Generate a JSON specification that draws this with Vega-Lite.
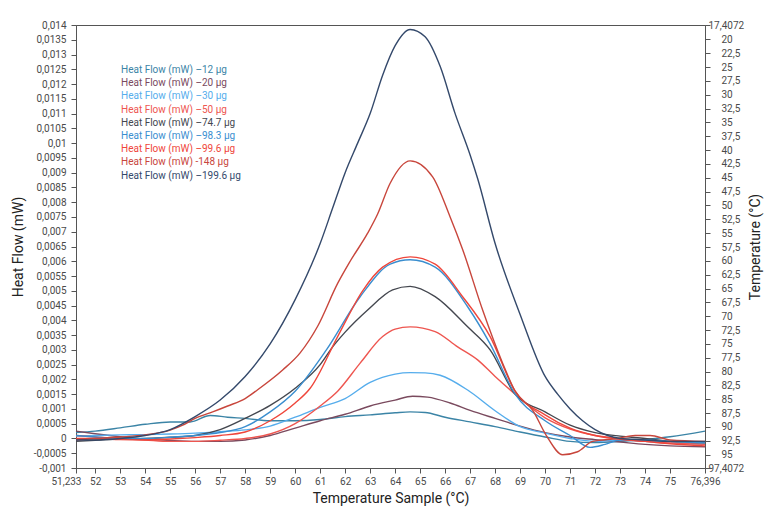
{
  "$schema": "https://vega.github.io/schema/vega-lite/v6.json",
  "width": 629,
  "height": 443,
  "autosize": "none",
  "padding": {"left": 76, "top": 25, "right": 63, "bottom": 46},
  "config": {
    "locale": {"number": {"decimal": ",", "thousands": ".", "grouping": [3], "currency": ["", " €"], "minus": "-"}},
    "font": "Roboto",
    "view": {"stroke": "#555"},
    "axis": {
      "domainColor": "#555",
      "tickColor": "#555",
      "labelColor": "#4a4a4a",
      "labelFontSize": 10,
      "titleFontSize": 14,
      "titleFontWeight": "normal",
      "titleColor": "#222",
      "titleBaseline": "middle",
      "titleAlign": "center",
      "grid": false,
      "tickSize": 5
    }
  },
  "layer": [
    {
      "data": {
        "values": [
          {"s": "12", "t": 51.233, "v": 0.0002}, {"s": "12", "t": 52, "v": 0.00025}, {"s": "12", "t": 53, "v": 0.00036},
          {"s": "12", "t": 54, "v": 0.00048}, {"s": "12", "t": 55, "v": 0.00056}, {"s": "12", "t": 55.8, "v": 0.00056},
          {"s": "12", "t": 56.6, "v": 0.00078}, {"s": "12", "t": 57.3, "v": 0.00072}, {"s": "12", "t": 58, "v": 0.00068},
          {"s": "12", "t": 59, "v": 0.0006}, {"s": "12", "t": 60, "v": 0.0006}, {"s": "12", "t": 61, "v": 0.00064},
          {"s": "12", "t": 62, "v": 0.00074}, {"s": "12", "t": 63, "v": 0.0008}, {"s": "12", "t": 64, "v": 0.00087},
          {"s": "12", "t": 64.6, "v": 0.0009}, {"s": "12", "t": 65.2, "v": 0.00088}, {"s": "12", "t": 66, "v": 0.00072},
          {"s": "12", "t": 67, "v": 0.00056}, {"s": "12", "t": 68, "v": 0.0004}, {"s": "12", "t": 69, "v": 0.00022},
          {"s": "12", "t": 70, "v": 0.00005}, {"s": "12", "t": 71, "v": -0.0001}, {"s": "12", "t": 72, "v": -0.00014},
          {"s": "12", "t": 73, "v": -0.0001}, {"s": "12", "t": 74, "v": -0.00003}, {"s": "12", "t": 75, "v": 0.00006},
          {"s": "12", "t": 76.396, "v": 0.00025},

          {"s": "20", "t": 51.233, "v": 0.00025}, {"s": "20", "t": 52, "v": 0.00016}, {"s": "20", "t": 53, "v": 0.00006},
          {"s": "20", "t": 54, "v": -0.00002}, {"s": "20", "t": 55, "v": -0.00007}, {"s": "20", "t": 56, "v": -0.0001},
          {"s": "20", "t": 57, "v": -0.0001}, {"s": "20", "t": 58, "v": -0.00005}, {"s": "20", "t": 59, "v": 0.0001},
          {"s": "20", "t": 60, "v": 0.00035}, {"s": "20", "t": 61, "v": 0.0006}, {"s": "20", "t": 62, "v": 0.00082},
          {"s": "20", "t": 63, "v": 0.0011}, {"s": "20", "t": 64, "v": 0.0013}, {"s": "20", "t": 64.7, "v": 0.00143},
          {"s": "20", "t": 65.3, "v": 0.0014}, {"s": "20", "t": 66.2, "v": 0.0012}, {"s": "20", "t": 67, "v": 0.00095},
          {"s": "20", "t": 68, "v": 0.00068}, {"s": "20", "t": 69, "v": 0.00042}, {"s": "20", "t": 70, "v": 0.0002},
          {"s": "20", "t": 71, "v": 0.00005}, {"s": "20", "t": 72, "v": -0.00004}, {"s": "20", "t": 73, "v": -0.00012},
          {"s": "20", "t": 74, "v": -0.0002}, {"s": "20", "t": 75, "v": -0.00025}, {"s": "20", "t": 76.396, "v": -0.00028},

          {"s": "30", "t": 51.233, "v": 0.00008}, {"s": "30", "t": 52, "v": 0.0001}, {"s": "30", "t": 53, "v": 0.00012},
          {"s": "30", "t": 54, "v": 0.00013}, {"s": "30", "t": 55, "v": 0.00015}, {"s": "30", "t": 56, "v": 0.00018},
          {"s": "30", "t": 57, "v": 0.00023}, {"s": "30", "t": 58, "v": 0.00029}, {"s": "30", "t": 59, "v": 0.00042},
          {"s": "30", "t": 60, "v": 0.00072}, {"s": "30", "t": 61, "v": 0.00105}, {"s": "30", "t": 62, "v": 0.00135},
          {"s": "30", "t": 63, "v": 0.0019}, {"s": "30", "t": 64, "v": 0.00218}, {"s": "30", "t": 64.6, "v": 0.00223},
          {"s": "30", "t": 65.2, "v": 0.00222}, {"s": "30", "t": 65.8, "v": 0.00214}, {"s": "30", "t": 66.9, "v": 0.00164},
          {"s": "30", "t": 68, "v": 0.00094}, {"s": "30", "t": 69, "v": 0.0004}, {"s": "30", "t": 70, "v": 0.00018},
          {"s": "30", "t": 71, "v": 0.0}, {"s": "30", "t": 72, "v": -0.0001}, {"s": "30", "t": 73, "v": -0.00005},
          {"s": "30", "t": 74, "v": -0.0001}, {"s": "30", "t": 75, "v": -0.00015}, {"s": "30", "t": 76.396, "v": -0.0002},

          {"s": "50", "t": 51.233, "v": 0.0001}, {"s": "50", "t": 52, "v": 0.00005}, {"s": "50", "t": 53, "v": 0.0},
          {"s": "50", "t": 54, "v": -0.00005}, {"s": "50", "t": 55, "v": -0.0001}, {"s": "50", "t": 56, "v": -0.0001},
          {"s": "50", "t": 57, "v": -0.00006}, {"s": "50", "t": 58, "v": 0.0}, {"s": "50", "t": 59, "v": 0.00015},
          {"s": "50", "t": 60, "v": 0.0005}, {"s": "50", "t": 61, "v": 0.0011}, {"s": "50", "t": 61.7, "v": 0.0016},
          {"s": "50", "t": 62.6, "v": 0.00255}, {"s": "50", "t": 63.5, "v": 0.00345}, {"s": "50", "t": 64, "v": 0.0037},
          {"s": "50", "t": 64.6, "v": 0.00378}, {"s": "50", "t": 65.6, "v": 0.00362}, {"s": "50", "t": 66.5, "v": 0.0031},
          {"s": "50", "t": 67.3, "v": 0.00266}, {"s": "50", "t": 68, "v": 0.0021}, {"s": "50", "t": 68.8, "v": 0.0015},
          {"s": "50", "t": 70, "v": 0.0007}, {"s": "50", "t": 71, "v": 0.00032}, {"s": "50", "t": 72, "v": 0.0001},
          {"s": "50", "t": 73, "v": 0.0}, {"s": "50", "t": 74, "v": -0.0001}, {"s": "50", "t": 75, "v": -0.00015},
          {"s": "50", "t": 76.396, "v": -0.0002},

          {"s": "74.7", "t": 51.233, "v": -0.0001}, {"s": "74.7", "t": 52, "v": -0.00006}, {"s": "74.7", "t": 53, "v": -0.00002},
          {"s": "74.7", "t": 54, "v": 0.0}, {"s": "74.7", "t": 55, "v": 0.00004}, {"s": "74.7", "t": 56, "v": 0.0001},
          {"s": "74.7", "t": 57, "v": 0.0003}, {"s": "74.7", "t": 58, "v": 0.00068}, {"s": "74.7", "t": 59, "v": 0.00112},
          {"s": "74.7", "t": 60, "v": 0.0017}, {"s": "74.7", "t": 61, "v": 0.0025}, {"s": "74.7", "t": 61.5, "v": 0.0031},
          {"s": "74.7", "t": 62, "v": 0.0036}, {"s": "74.7", "t": 62.9, "v": 0.00435}, {"s": "74.7", "t": 63.9, "v": 0.00503},
          {"s": "74.7", "t": 64.6, "v": 0.00515}, {"s": "74.7", "t": 65.6, "v": 0.0048}, {"s": "74.7", "t": 66.9, "v": 0.00378},
          {"s": "74.7", "t": 67.8, "v": 0.003}, {"s": "74.7", "t": 68.8, "v": 0.0015}, {"s": "74.7", "t": 70, "v": 0.0009},
          {"s": "74.7", "t": 71, "v": 0.00045}, {"s": "74.7", "t": 72, "v": 0.0002}, {"s": "74.7", "t": 73, "v": 0.00008},
          {"s": "74.7", "t": 74, "v": 0.0}, {"s": "74.7", "t": 75, "v": -0.0001}, {"s": "74.7", "t": 76.396, "v": -0.00015},

          {"s": "98.3", "t": 51.233, "v": 0.0001}, {"s": "98.3", "t": 52, "v": 0.00005}, {"s": "98.3", "t": 53, "v": 0.0},
          {"s": "98.3", "t": 54, "v": 0.0}, {"s": "98.3", "t": 55, "v": 0.00004}, {"s": "98.3", "t": 56, "v": 0.0001},
          {"s": "98.3", "t": 57, "v": 0.0002}, {"s": "98.3", "t": 58, "v": 0.0004}, {"s": "98.3", "t": 59, "v": 0.0009},
          {"s": "98.3", "t": 60, "v": 0.0016}, {"s": "98.3", "t": 61.25, "v": 0.003}, {"s": "98.3", "t": 62.6, "v": 0.0048},
          {"s": "98.3", "t": 63.8, "v": 0.0059}, {"s": "98.3", "t": 64.6, "v": 0.00605}, {"s": "98.3", "t": 65.6, "v": 0.0058},
          {"s": "98.3", "t": 66.9, "v": 0.00446}, {"s": "98.3", "t": 67.8, "v": 0.0032}, {"s": "98.3", "t": 68.8, "v": 0.0015},
          {"s": "98.3", "t": 70, "v": 0.0006}, {"s": "98.3", "t": 71, "v": 0.0001}, {"s": "98.3", "t": 71.8, "v": -0.0003},
          {"s": "98.3", "t": 72.4, "v": -0.0002}, {"s": "98.3", "t": 73, "v": -0.00005}, {"s": "98.3", "t": 74, "v": -0.00005},
          {"s": "98.3", "t": 75, "v": -0.0001}, {"s": "98.3", "t": 76.396, "v": -0.00015},

          {"s": "99.6", "t": 51.233, "v": 0.0}, {"s": "99.6", "t": 52, "v": 0.0}, {"s": "99.6", "t": 53, "v": -0.00004},
          {"s": "99.6", "t": 54, "v": -0.00005}, {"s": "99.6", "t": 55, "v": -0.00002}, {"s": "99.6", "t": 56, "v": 0.00003},
          {"s": "99.6", "t": 57, "v": 0.0001}, {"s": "99.6", "t": 58, "v": 0.00022}, {"s": "99.6", "t": 59, "v": 0.0006},
          {"s": "99.6", "t": 60, "v": 0.0012}, {"s": "99.6", "t": 60.6, "v": 0.0017}, {"s": "99.6", "t": 61.7, "v": 0.00345},
          {"s": "99.6", "t": 62.7, "v": 0.005}, {"s": "99.6", "t": 63.5, "v": 0.0058}, {"s": "99.6", "t": 64.6, "v": 0.00615},
          {"s": "99.6", "t": 65.6, "v": 0.0059}, {"s": "99.6", "t": 66.7, "v": 0.0048}, {"s": "99.6", "t": 67.8, "v": 0.00345},
          {"s": "99.6", "t": 68.8, "v": 0.0016}, {"s": "99.6", "t": 70, "v": 0.0008}, {"s": "99.6", "t": 71, "v": 0.00035},
          {"s": "99.6", "t": 72, "v": 0.0001}, {"s": "99.6", "t": 73, "v": -0.00003}, {"s": "99.6", "t": 74, "v": -0.0001},
          {"s": "99.6", "t": 75, "v": -0.00018}, {"s": "99.6", "t": 76.396, "v": -0.00025},

          {"s": "148", "t": 51.233, "v": -0.00005}, {"s": "148", "t": 52, "v": 0.0}, {"s": "148", "t": 53, "v": 0.00005},
          {"s": "148", "t": 54, "v": 0.00012}, {"s": "148", "t": 55, "v": 0.00028}, {"s": "148", "t": 55.5, "v": 0.00045},
          {"s": "148", "t": 56, "v": 0.00068}, {"s": "148", "t": 56.7, "v": 0.0009}, {"s": "148", "t": 57.3, "v": 0.0011},
          {"s": "148", "t": 58, "v": 0.00135}, {"s": "148", "t": 58.5, "v": 0.00165}, {"s": "148", "t": 59.5, "v": 0.00232},
          {"s": "148", "t": 60.2, "v": 0.0029}, {"s": "148", "t": 60.9, "v": 0.0038}, {"s": "148", "t": 61.7, "v": 0.00525},
          {"s": "148", "t": 62.2, "v": 0.006}, {"s": "148", "t": 62.9, "v": 0.00695}, {"s": "148", "t": 63.3, "v": 0.0076},
          {"s": "148", "t": 63.8, "v": 0.00864}, {"s": "148", "t": 64.6, "v": 0.0094}, {"s": "148", "t": 65.5, "v": 0.00886},
          {"s": "148", "t": 66.2, "v": 0.0075}, {"s": "148", "t": 66.7, "v": 0.0064}, {"s": "148", "t": 67.5, "v": 0.00435},
          {"s": "148", "t": 68.3, "v": 0.00255}, {"s": "148", "t": 68.8, "v": 0.0016}, {"s": "148", "t": 69.5, "v": 0.00096},
          {"s": "148", "t": 70.05, "v": 0.0001}, {"s": "148", "t": 70.7, "v": -0.00055}, {"s": "148", "t": 71.3, "v": -0.00045},
          {"s": "148", "t": 71.9, "v": -0.0001}, {"s": "148", "t": 72.9, "v": 0.0}, {"s": "148", "t": 73.6, "v": 0.0001},
          {"s": "148", "t": 74.2, "v": 0.0001}, {"s": "148", "t": 75, "v": -0.00005}, {"s": "148", "t": 76.396, "v": -0.0001},

          {"s": "199.6", "t": 51.233, "v": -0.00005}, {"s": "199.6", "t": 52, "v": -0.00005}, {"s": "199.6", "t": 53, "v": 0.0},
          {"s": "199.6", "t": 54, "v": 0.0001}, {"s": "199.6", "t": 55, "v": 0.0003}, {"s": "199.6", "t": 56, "v": 0.00074},
          {"s": "199.6", "t": 57, "v": 0.0013}, {"s": "199.6", "t": 58, "v": 0.0021}, {"s": "199.6", "t": 59, "v": 0.0032},
          {"s": "199.6", "t": 60, "v": 0.0047}, {"s": "199.6", "t": 61, "v": 0.0066}, {"s": "199.6", "t": 61.5, "v": 0.0078},
          {"s": "199.6", "t": 62, "v": 0.009}, {"s": "199.6", "t": 62.5, "v": 0.01}, {"s": "199.6", "t": 63, "v": 0.011},
          {"s": "199.6", "t": 63.5, "v": 0.0123}, {"s": "199.6", "t": 64, "v": 0.0133}, {"s": "199.6", "t": 64.6, "v": 0.01385},
          {"s": "199.6", "t": 65.2, "v": 0.0136}, {"s": "199.6", "t": 65.8, "v": 0.0126}, {"s": "199.6", "t": 66.4, "v": 0.011},
          {"s": "199.6", "t": 67, "v": 0.0096}, {"s": "199.6", "t": 67.3, "v": 0.0088}, {"s": "199.6", "t": 68, "v": 0.0066},
          {"s": "199.6", "t": 69, "v": 0.0042}, {"s": "199.6", "t": 70, "v": 0.0021}, {"s": "199.6", "t": 70.5, "v": 0.0015},
          {"s": "199.6", "t": 71, "v": 0.001}, {"s": "199.6", "t": 71.5, "v": 0.0006}, {"s": "199.6", "t": 72, "v": 0.0003},
          {"s": "199.6", "t": 72.5, "v": 0.0001}, {"s": "199.6", "t": 73, "v": 0.0},
          {"s": "199.6", "t": 74, "v": -0.00005}, {"s": "199.6", "t": 75, "v": -0.0001}, {"s": "199.6", "t": 76.396, "v": -0.0001}
        ]
      },
      "mark": {"type": "line", "interpolate": "monotone", "strokeWidth": 1.4},
      "encoding": {
        "x": {
          "field": "t",
          "type": "quantitative",
          "scale": {"domain": [51.233, 76.396], "nice": false, "zero": false},
          "axis": {
            "title": "Temperature Sample (°C)",
            "titleX": 314.5,
            "titleY": 30,
            "values": [51.233, 52, 53, 54, 55, 56, 57, 58, 59, 60, 61, 62, 63, 64, 65, 66, 67, 68, 69, 70, 71, 72, 73, 74, 75, 76.396],
            "format": ".6~g",
            "labelOverlap": false,
            "labelFlush": false,
            "labelPadding": 3,
            "labelAlign": {"condition": {"test": "datum.value < 51.5", "value": "right"}, "value": "center"},
            "labelOffset": {"condition": {"test": "datum.value < 51.5", "value": 5}, "value": 0}
          }
        },
        "y": {
          "field": "v",
          "type": "quantitative",
          "scale": {"domain": [-0.001, 0.014], "nice": false, "zero": false},
          "axis": {
            "title": "Heat Flow (mW)",
            "titleX": -58,
            "titleY": 221.5,
            "titleAngle": 270,
            "values": [-0.001, -0.0005, 0, 0.0005, 0.001, 0.0015, 0.002, 0.0025, 0.003, 0.0035, 0.004, 0.0045, 0.005, 0.0055, 0.006, 0.0065, 0.007, 0.0075, 0.008, 0.0085, 0.009, 0.0095, 0.01, 0.0105, 0.011, 0.0115, 0.012, 0.0125, 0.013, 0.0135, 0.014],
            "format": ".6~g",
            "labelOverlap": false,
            "labelFlush": false,
            "labelPadding": 5
          }
        },
        "color": {
          "field": "s",
          "type": "nominal",
          "scale": {
            "domain": ["12", "20", "30", "50", "74.7", "98.3", "99.6", "148", "199.6"],
            "range": ["#3b84a6", "#7a4a5e", "#56adec", "#ee5650", "#44474f", "#3a8ecf", "#ef463b", "#c8463c", "#34496b"]
          },
          "legend": {
            "orient": "none",
            "legendX": 35,
            "legendY": 40,
            "title": null,
            "symbolSize": 0,
            "symbolOpacity": 0,
            "symbolStrokeWidth": 0,
            "labelOffset": 0,
            "labelFont": "Roboto",
            "labelFontSize": 10,
            "rowPadding": 3.2,
            "labelExpr": "datum.label == '148' ? 'Heat Flow (mW) -148 µg' : 'Heat Flow (mW) –' + datum.label + ' µg'",
            "encode": {"labels": {"update": {"fill": {"scale": "color", "field": "value"}}}}
          }
        }
      }
    },
    {
      "data": {"values": [{"temp": 17.4072}, {"temp": 97.4072}]},
      "mark": {"type": "point", "opacity": 0},
      "encoding": {
        "y": {
          "field": "temp",
          "type": "quantitative",
          "scale": {"domain": [17.4072, 97.4072], "reverse": true, "nice": false, "zero": false},
          "axis": {
            "orient": "right",
            "title": "Temperature (°C)",
            "titleAngle": 270,
            "titleX": 50,
            "titleY": 221.5,
            "values": [17.4072, 20, 22.5, 25, 27.5, 30, 32.5, 35, 37.5, 40, 42.5, 45, 47.5, 50, 52.5, 55, 57.5, 60, 62.5, 65, 67.5, 70, 72.5, 75, 77.5, 80, 82.5, 85, 87.5, 90, 92.5, 95, 97.4072],
            "format": ".6~g",
            "labelOverlap": false,
            "labelFlush": false,
            "labelPadding": {"condition": {"test": "datum.value < 18 || datum.value > 97", "value": -2}, "value": 11}
          }
        }
      }
    }
  ],
  "resolve": {"scale": {"y": "independent"}}
}
